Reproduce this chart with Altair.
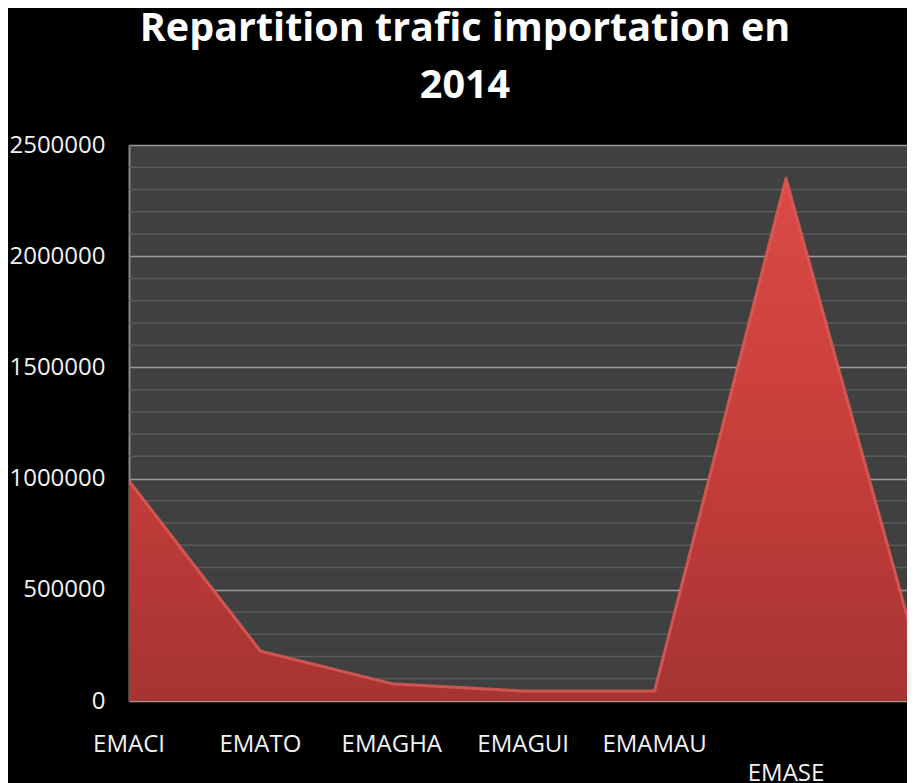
import altair as alt
import pandas as pd

# ---- data ----
categories = ["EMACI", "EMATO", "EMAGHA", "EMAGUI", "EMAMAU", "EMASE"]
# 7th point lies just past the right edge of the cropped picture (its label is not visible)
values = [990000, 225000, 78000, 45000, 45000, 2350000, 215000]
major_ticks = [0, 500000, 1000000, 1500000, 2000000, 2500000]
minor_ticks = [v for v in range(0, 2500001, 100000) if v % 500000 != 0]
title_lines = ["Repartition trafic importation en", "2014"]

area_df = pd.DataFrame({"pos": list(range(len(values))), "value": values})
label_df = pd.DataFrame({"pos": list(range(len(categories))), "label": categories})
minor_df = pd.DataFrame({"v": minor_ticks})

PLOT_W = 778
PLOT_H = 556
STEP = 131.4

x_scale = alt.Scale(domain=[0, PLOT_W / STEP], nice=False, zero=False)
y_scale = alt.Scale(domain=[0, 2500000], nice=False)
x_enc = alt.X("pos:Q", scale=x_scale, axis=None)

y_axis = alt.Axis(
    values=major_ticks,
    format="d",
    labelOverlap=False,
    labelFont="Open Sans",
    labelFontSize=24,
    labelColor="#f2f2f2",
    labelPadding=24,
    ticks=False,
    domain=True,
    domainColor="#8a8a8a",
    domainWidth=2,
    grid=True,
    gridColor="#9a9a9a",
    gridWidth=1.5,
    title=None,
)

minor = alt.Chart(minor_df).mark_rule(color="#5a5a5a", strokeWidth=1.5).encode(
    y=alt.Y("v:Q", scale=y_scale, axis=y_axis)
)

area = alt.Chart(area_df).mark_area(
    clip=True,
    color=alt.Gradient(
        gradient="linear",
        stops=[
            alt.GradientStop(color="#dc4a46", offset=0),
            alt.GradientStop(color="#c73e3b", offset=0.5),
            alt.GradientStop(color="#a63433", offset=1),
        ],
        x1=0, x2=0, y1=0, y2=1,
    ),
).encode(x=x_enc, y=alt.Y("value:Q", scale=y_scale))

ridge = alt.Chart(area_df).mark_line(
    clip=True, color="#de5a55", strokeWidth=3, opacity=0.85, strokeJoin="round"
).encode(x=x_enc, y=alt.Y("value:Q", scale=y_scale))

labels_top = alt.Chart(label_df).transform_filter("datum.pos < 5").mark_text(
    font="Open Sans", fontSize=24, color="#f2f2f2", baseline="middle", align="center"
).encode(x=x_enc, y=alt.value(600), text="label:N")

labels_low = alt.Chart(label_df).transform_filter("datum.pos >= 5").mark_text(
    font="Open Sans", fontSize=24, color="#f2f2f2", baseline="middle", align="center"
).encode(x=x_enc, y=alt.value(629), text="label:N")

chart = alt.layer(minor, area, ridge, labels_top, labels_low).properties(
    width=PLOT_W,
    height=PLOT_H,
    background="black",
    padding={"left": 121, "top": 137, "right": 0, "bottom": 90},
    autosize=alt.AutoSizeParams(type="none"),
    title=alt.Title(
        text=title_lines,
        font="Open Sans",
        fontSize=39.5,
        fontWeight="bold",
        color="white",
        anchor="middle",
        baseline="alphabetic",
        lineHeight=57,
        offset=2,
        dx=-53,
        dy=6,
    ),
).configure_view(fill="#404040", strokeWidth=0)

chart.save("out.html", embed_options={"renderer": "svg", "actions": False})
